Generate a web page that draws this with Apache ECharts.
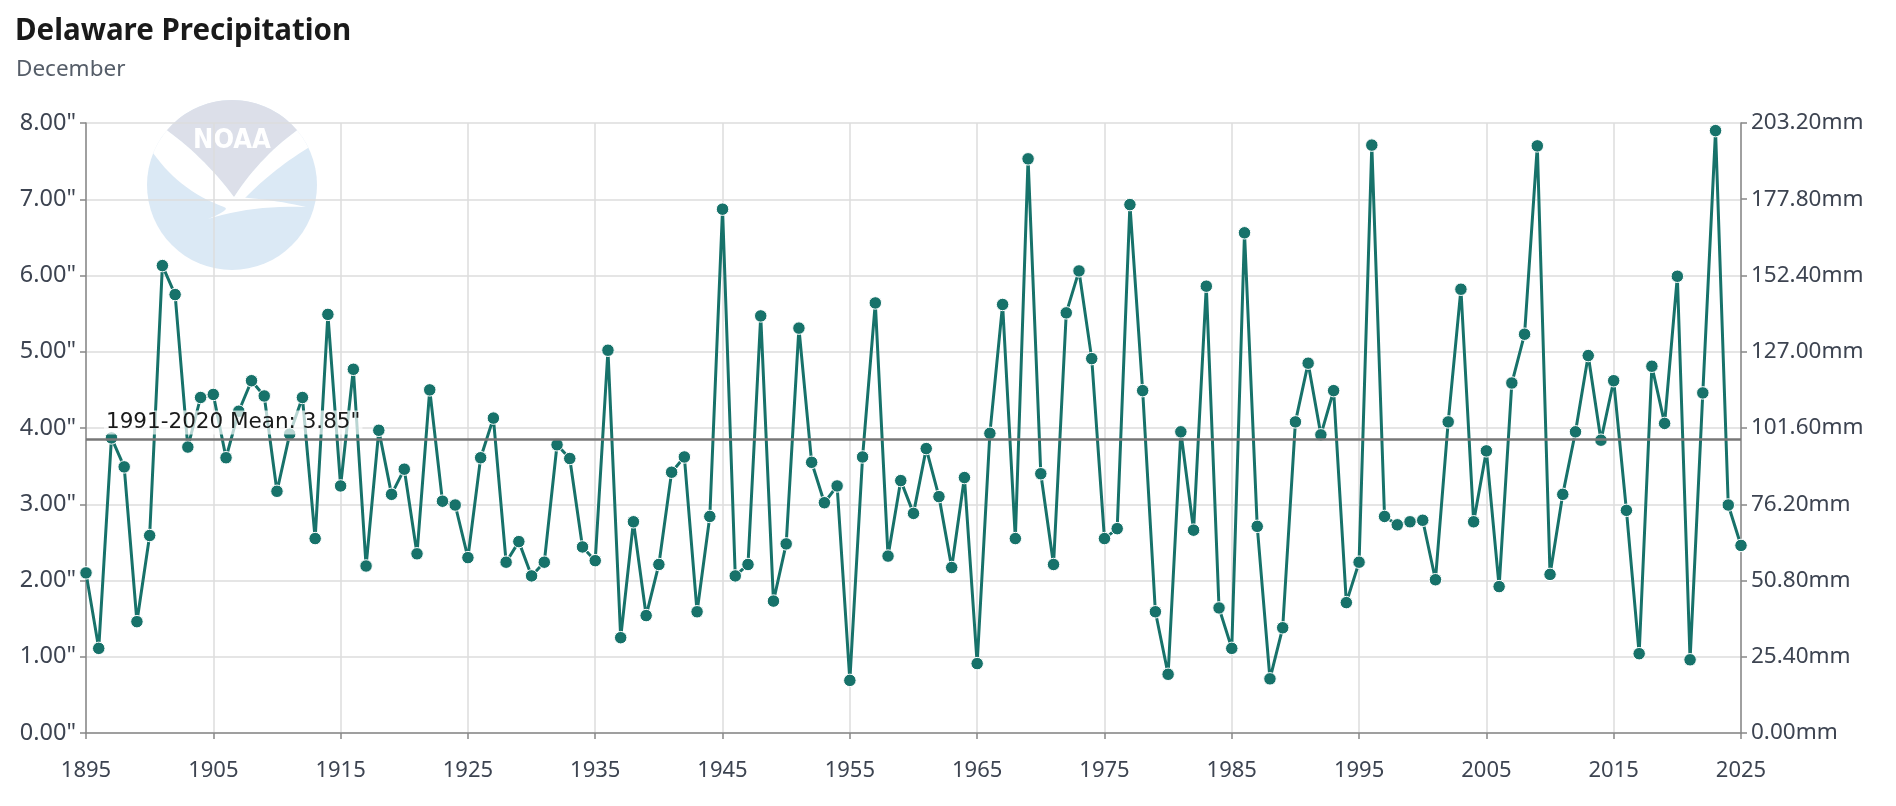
<!DOCTYPE html>
<html>
<head>
<meta charset="utf-8">
<script src="https://cdn.jsdelivr.net/npm/echarts@6/dist/echarts.min.js"></script>
<style>
html,body{margin:0;padding:0;background:#fff;}
#chart{width:1896px;height:806px;}
</style>
</head>
<body>
<div id="chart"></div>
<script>
const years = [];
for (let y = 1895; y <= 2025; y++) years.push(y);
const precipInches = [
  2.10,1.11,3.87,3.49,1.46,2.59,6.13,5.75,3.75,4.40,
  4.44,3.61,4.22,4.62,4.42,3.17,3.92,4.40,2.55,5.49,
  3.24,4.77,2.19,3.97,3.13,3.46,2.35,4.50,3.04,2.99,
  2.30,3.61,4.13,2.24,2.51,2.06,2.24,3.78,3.60,2.44,
  2.26,5.02,1.25,2.77,1.54,2.21,3.42,3.62,1.59,2.84,
  6.87,2.06,2.21,5.47,1.73,2.48,5.31,3.55,3.02,3.24,
  0.69,3.62,5.64,2.32,3.31,2.88,3.73,3.10,2.17,3.35,
  0.91,3.93,5.62,2.55,7.53,3.40,2.21,5.51,6.06,4.91,
  2.55,2.68,6.93,4.49,1.59,0.77,3.95,2.66,5.86,1.64,
  1.11,6.56,2.71,0.71,1.38,4.08,4.85,3.91,4.49,1.71,
  2.24,7.71,2.84,2.73,2.77,2.79,2.01,4.08,5.82,2.77,
  3.70,1.92,4.59,5.23,7.70,2.08,3.13,3.95,4.95,3.84,
  4.62,2.92,1.04,4.81,4.06,5.99,0.96,4.46,7.90,2.99,
  2.46
];
const meanValue = 3.85;
const meanLabel = '1991-2020 Mean: 3.85"';
const chartTitle = 'Delaware Precipitation';
const chartSubtitle = 'December';

const seriesData = years.map((y, i) => [y, precipInches[i]]);

const chart = echarts.init(document.getElementById('chart'));
const axisTextColor = '#3d4451';
const fontFam = '"Noto Sans", sans-serif';

// NOAA watermark geometry helpers (decoration only)
const cx = 232, cy = 185, r = 85;
function quad(p0, p1, p2, n) {
  const out = [];
  for (let i = 0; i <= n; i++) {
    const t = i / n, a = (1 - t) * (1 - t), b = 2 * (1 - t) * t, c = t * t;
    out.push([a * p0[0] + b * p1[0] + c * p2[0], a * p0[1] + b * p1[1] + c * p2[1]]);
  }
  return out;
}
function arcPt(deg) { const a = deg * Math.PI / 180; return [cx + r * Math.cos(a), cy + r * Math.sin(a)]; }
function arcPts(d0, d1, n) {
  const out = [];
  for (let i = 0; i <= n; i++) out.push(arcPt(d0 + (d1 - d0) * i / n));
  return out;
}
const A = arcPt(-140), B = arcPt(-40), BOT = [cx + 2, cy + 12];
const capPts = [].concat(
  arcPts(-140, -40, 30),
  quad(B, [cx + 28, cy - 28], BOT, 15),
  quad(BOT, [cx - 28, cy - 28], A, 15)
);
const LW = arcPt(-158);
const leftWingPts = [].concat(
  arcPts(-158, -140, 8),
  quad(A, [cx - 28, cy - 28], BOT, 15),
  quad(BOT, [cx + 40, cy + 14], [cx + 74, cy + 22], 12),
  quad([cx + 74, cy + 22], [cx + 20, cy + 20], [cx - 24, cy + 34], 12),
  quad([cx - 24, cy + 34], [cx + 0, cy + 24], [cx - 8, cy + 22], 6),
  quad([cx - 8, cy + 22], [cx - 52, cy + 6], LW, 15)
);
const RW = arcPt(-26);
const rightWingPts = [].concat(
  arcPts(-40, -26, 8),
  quad(RW, [cx + 40, cy - 15], [cx + 12, cy + 14], 15),
  [BOT],
  quad(BOT, [cx + 28, cy - 28], B, 15)
);

chart.setOption({
  backgroundColor: '#fff',
  animation: false,
  title: [
    { text: chartTitle, left: 10, top: 12, textStyle: { fontFamily: fontFam, fontWeight: 'bold', fontSize: 29.5, color: '#1a1a1a' } },
    { text: chartSubtitle, left: 11, top: 53, textStyle: { fontFamily: fontFam, fontWeight: 'normal', fontSize: 22.5, color: '#555d68' } }
  ],
  graphic: [
    { type: 'circle', z: -10, silent: true, shape: { cx: cx, cy: cy, r: r }, style: { fill: '#dbe9f5' } },
    { type: 'polygon', z: -9, silent: true, shape: { points: capPts }, style: { fill: '#dcdfe9' } },
    { type: 'polygon', z: -8, silent: true, shape: { points: leftWingPts }, style: { fill: '#ffffff' } },
    { type: 'polygon', z: -8, silent: true, shape: { points: rightWingPts }, style: { fill: '#ffffff' } },
    { type: 'text', z: -7, silent: true, style: { text: 'NOAA', x: cx, y: cy - 44, align: 'center', verticalAlign: 'middle',
        fill: '#ffffff', font: 'bold 27px "DejaVu Sans Condensed", "DejaVu Sans", sans-serif' } }
  ],
  grid: { left: 86, right: 155, top: 123, bottom: 73, containLabel: false },
  xAxis: {
    type: 'value', min: 1895, max: 2025, interval: 10,
    axisLine: { show: true, onZero: false, lineStyle: { color: '#888', width: 1.5 } },
    axisTick: { show: true, length: 6, lineStyle: { color: '#888', width: 1.5 } },
    axisLabel: { color: axisTextColor, fontFamily: fontFam, fontSize: 22, margin: 27, formatter: v => String(v) },
    splitLine: { show: true, lineStyle: { color: '#dddddd', width: 1.5 } }
  },
  yAxis: [
    {
      type: 'value', min: 0, max: 8, interval: 1, position: 'left',
      axisLine: { show: true, lineStyle: { color: '#888', width: 1.5 } },
      axisTick: { show: true, length: 6, lineStyle: { color: '#888', width: 1.5 } },
      axisLabel: { color: axisTextColor, fontFamily: fontFam, fontSize: 23.5, margin: 10, formatter: v => v.toFixed(2) + '"' },
      splitLine: { show: true, lineStyle: { color: '#dddddd', width: 1.5 } }
    },
    {
      type: 'value', min: 0, max: 203.2, interval: 25.4, position: 'right',
      axisLine: { show: true, lineStyle: { color: '#888', width: 1.5 } },
      axisTick: { show: true, length: 6, lineStyle: { color: '#888', width: 1.5 } },
      axisLabel: { color: axisTextColor, fontFamily: fontFam, fontSize: 22.5, margin: 10, formatter: v => v.toFixed(2) + 'mm' },
      splitLine: { show: false }
    }
  ],
  series: [{
    type: 'line',
    data: seriesData,
    yAxisIndex: 0,
    symbol: 'circle',
    symbolSize: 12.5,
    showAllSymbol: true,
    lineStyle: { color: '#17726a', width: 3 },
    itemStyle: { color: '#17726a', borderColor: '#ffffff', borderWidth: 1 },
    markLine: {
      silent: true,
      symbol: ['none', 'none'],
      lineStyle: { color: '#777777', width: 2.5, type: 'solid' },
      label: {
        show: true, position: 'insideStartTop', formatter: meanLabel,
        color: '#1a1a1a', fontFamily: '"DejaVu Sans", sans-serif', fontSize: 21.5,
        backgroundColor: 'rgba(255,255,255,0.7)', padding: [1, 2], distance: [18, 5]
      },
      data: [{ yAxis: meanValue }]
    }
  }]
});
</script>
</body>
</html>
